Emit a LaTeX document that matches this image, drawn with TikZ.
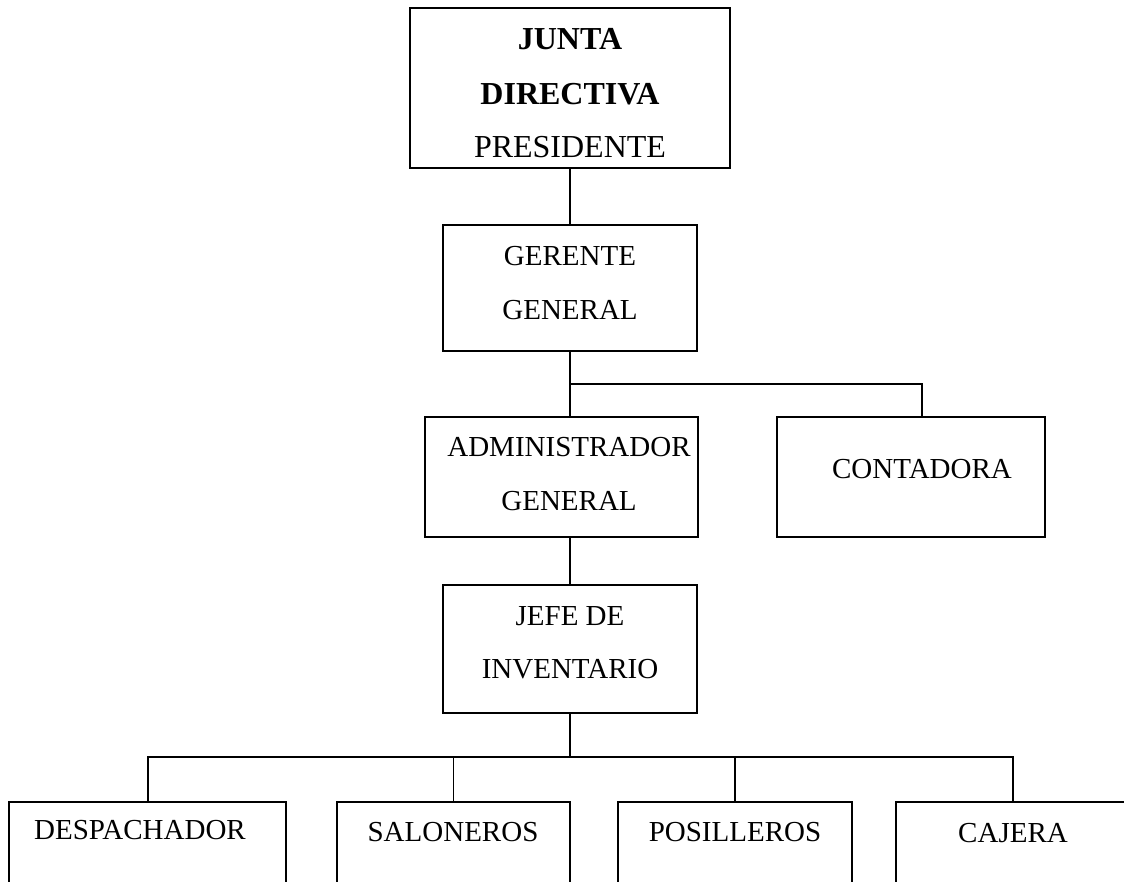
\documentclass[tikz,border=0pt]{standalone}
\usepackage{fontspec}
\setmainfont{Liberation Serif}
\begin{document}
\begin{tikzpicture}[x=1pt,y=-1pt,
  box/.style={draw, line width=2pt, inner sep=0pt},
  lbl/.style={inner sep=0pt, anchor=base, font=\fontsize{29}{34}\selectfont},
  big/.style={inner sep=0pt, anchor=base, font=\fontsize{32}{38}\selectfont},
  conn/.style={line width=2pt},
  thin/.style={line width=1.2pt}]
\useasboundingbox (0,0) rectangle (1124,882);
\clip (0,0) rectangle (1124,882);
% boxes
\node[box, minimum width=320pt, minimum height=160pt] (junta) at (570,88) {};
\node[box, minimum width=254pt, minimum height=126pt] (ger) at (570,288) {};
\node[box, minimum width=273pt, minimum height=120pt] (adm) at (561.5,477) {};
\node[box, minimum width=268pt, minimum height=120pt] (cont) at (911,477) {};
\node[box, minimum width=254pt, minimum height=128pt] (jefe) at (570,649) {};
\node[box, minimum width=277pt, minimum height=140pt] (desp) at (147.5,872) {};
\node[box, minimum width=233pt, minimum height=140pt] (salo) at (453.5,872) {};
\node[box, minimum width=234pt, minimum height=140pt] (posi) at (735,872) {};
\node[box, minimum width=234pt, minimum height=140pt] (caje) at (1013,872) {};
% texts
\node[big] (t1) at (570,50) {\bfseries JUNTA};
\node[big] (t2) at (570,105) {\bfseries DIRECTIVA};
\node[big] (t3) at (570,158) {PRESIDENTE};
\node[lbl] (t4) at (570,266) {GERENTE};
\node[lbl] (t5) at (570,320) {GENERAL};
\node[lbl] (t6) at (569,456) {ADMINISTRADOR};
\node[lbl] (t7) at (569,510) {GENERAL};
\node[lbl] (t8) at (922,478) {CONTADORA};
\node[lbl] (t9) at (570,625) {JEFE DE};
\node[lbl] (t10) at (570,678) {INVENTARIO};
\node[lbl] (t11) at (140,839) {DESPACHADOR};
\node[lbl] (t12) at (453,841) {SALONEROS};
\node[lbl] (t13) at (735,841) {POSILLEROS};
\node[lbl] (t14) at (1013,842) {CAJERA};
% junctions
\coordinate (j1) at (570,384);
\coordinate (j2) at (570,757);
\coordinate (cj) at (922,417);
% connectors
\draw[conn] (junta.south) -- (ger.north);
\draw[conn] (ger.south) -- (j1) -- (j1 |- adm.north);
\draw[conn] (j1) -| (cj);
\draw[conn] (adm.south -| j1) -- (jefe.north);
\draw[line width=2.8pt] (jefe.south) -- (j2);
\draw[conn] (desp.north) |- (j2) -| (caje.north);
\draw[thin] (salo.north |- j2) -- (salo.north);
\draw[thin] (posi.north |- j2) -- (posi.north);
\end{tikzpicture}
\end{document}
